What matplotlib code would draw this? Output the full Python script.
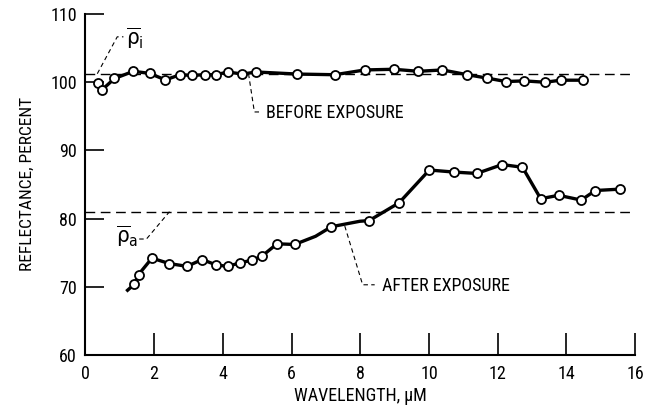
import matplotlib
matplotlib.use("Agg")
import matplotlib.pyplot as plt
from matplotlib import font_manager

# ---- data ----
before_x = [0.38, 0.49, 0.85, 1.40, 1.87, 2.33, 2.76, 3.11, 3.47, 3.81, 4.14, 4.57, 4.98,
            6.16, 7.26, 8.13, 8.98, 9.69, 10.39, 11.12, 11.70, 12.24, 12.77, 13.38, 13.83, 14.49]
before_y = [99.85, 98.85, 100.5, 101.55, 101.25, 100.3, 101.05, 100.95, 101.05, 101.05, 101.45,
            101.15, 101.45, 101.15, 101.05, 101.75, 101.85, 101.55, 101.75, 101.05, 100.55,
            100.05, 100.15, 99.95, 100.25, 100.25]

after_line_x = [1.23, 1.43, 1.55, 1.94, 2.45, 2.96, 3.40, 3.81, 4.15, 4.49, 4.85, 5.14, 5.58,
                6.09, 6.70, 7.16, 7.99, 8.26, 9.13, 10.01, 10.73, 11.39, 12.13, 12.72, 13.25,
                13.77, 14.43, 14.84, 15.55]
after_line_y = [69.5, 70.4, 71.8, 74.2, 73.4, 73.0, 74.0, 73.2, 73.0, 73.5, 73.9, 74.5, 76.3,
                76.2, 77.4, 78.8, 79.6, 79.7, 82.3, 87.1, 86.8, 86.6, 87.9, 87.5, 82.9,
                83.4, 82.7, 84.1, 84.3]
after_x = [1.43, 1.55, 1.94, 2.45, 2.96, 3.40, 3.81, 4.15, 4.49, 4.85, 5.14, 5.58, 6.09, 7.16,
           8.26, 9.13, 10.01, 10.73, 11.39, 12.13, 12.72, 13.25, 13.77, 14.43, 14.84, 15.55]
after_y = [70.4, 71.8, 74.2, 73.4, 73.0, 74.0, 73.2, 73.0, 73.5, 73.9, 74.5, 76.3, 76.2, 78.8,
           79.7, 82.3, 87.1, 86.8, 86.6, 87.9, 87.5, 82.9, 83.4, 82.7, 84.1, 84.3]

rho_i = 101.2
rho_a = 81.0

x_ticks = [0, 2, 4, 6, 8, 10, 12, 14, 16]
y_ticks = [60, 70, 80, 90, 100, 110]

# pick a condensed face if one is installed
names = {f.name for f in font_manager.fontManager.ttflist}
cond = [n for n in ["Liberation Sans Narrow", "DejaVu Sans Condensed", "Roboto Condensed",
                    "Open Sans Condensed"] if n in names]
FONT = cond[:1] + ["DejaVu Sans"]
plt.rcParams["font.family"] = FONT
plt.rcParams["font.stretch"] = "condensed"
plt.rcParams["mathtext.fontset"] = "custom"
plt.rcParams["mathtext.rm"] = "DejaVu Sans"
plt.rcParams["mathtext.it"] = "DejaVu Sans"
plt.rcParams["mathtext.bf"] = "DejaVu Sans"

fig = plt.figure(figsize=(6.61, 4.12), dpi=100)
ax = fig.add_axes([0.129, 0.138, 0.832, 0.829])

ax.set_xlim(0, 16)
ax.set_ylim(60, 110)

# mean lines
ax.plot([0, 16], [rho_i, rho_i], color="black", lw=1.0, dashes=(7, 4), zorder=2)
ax.plot([0, 16], [rho_a, rho_a], color="black", lw=1.0, dashes=(7, 4), zorder=2)

# before exposure
ax.plot(before_x, before_y, color="black", lw=2.4, zorder=3,
        marker="o", ms=6.5, mfc="white", mec="black", mew=1.3)
# after exposure
ax.plot(after_line_x, after_line_y, color="black", lw=2.4, zorder=3)
ax.plot(after_x, after_y, ls="none", zorder=4,
        marker="o", ms=6.5, mfc="white", mec="black", mew=1.3)

# leaders
lk = dict(color="black", lw=0.8, dashes=(4, 3), zorder=2)
ax.plot([0.35, 0.93, 1.11], [101.2, 106.6, 106.6], **lk)
ax.plot([1.57, 1.78, 2.45], [77.0, 77.0, 81.0], **lk)
ax.plot([4.75, 4.92, 5.08], [101.2, 95.6, 95.6], **lk)
ax.plot([7.55, 8.07, 8.42], [78.9, 70.3, 70.3], **lk)

ax.text(1.18, 106.4, r"$\overline{\rho}_{\mathrm{i}}$", fontsize=16, ha="left", va="center")
ax.text(1.55, 77.4, r"$\overline{\rho}_{\mathrm{a}}$", fontsize=16, ha="right", va="center")
ax.text(5.25, 95.5, "BEFORE EXPOSURE", fontsize=13, ha="left", va="center")
ax.text(8.62, 70.1, "AFTER EXPOSURE", fontsize=13, ha="left", va="center")

ax.set_xticks(x_ticks)
ax.set_yticks(y_ticks)
ax.set_xticklabels([str(v) for v in x_ticks])
ax.set_yticklabels([str(v) for v in y_ticks])

for s in ["top", "right"]:
    ax.spines[s].set_visible(False)
for s in ["left", "bottom"]:
    ax.spines[s].set_linewidth(1.5)

ax.tick_params(axis="x", direction="in", length=16, width=1.2, labelsize=13, pad=7)
ax.tick_params(axis="y", direction="in", length=14, width=1.2, labelsize=13, pad=6)

ax.set_xlabel("WAVELENGTH, \u03bcM", fontsize=13, labelpad=3)
ax.set_ylabel("REFLECTANCE, PERCENT", fontsize=12.5, labelpad=11)

fig.savefig("out.png", dpi=100)
